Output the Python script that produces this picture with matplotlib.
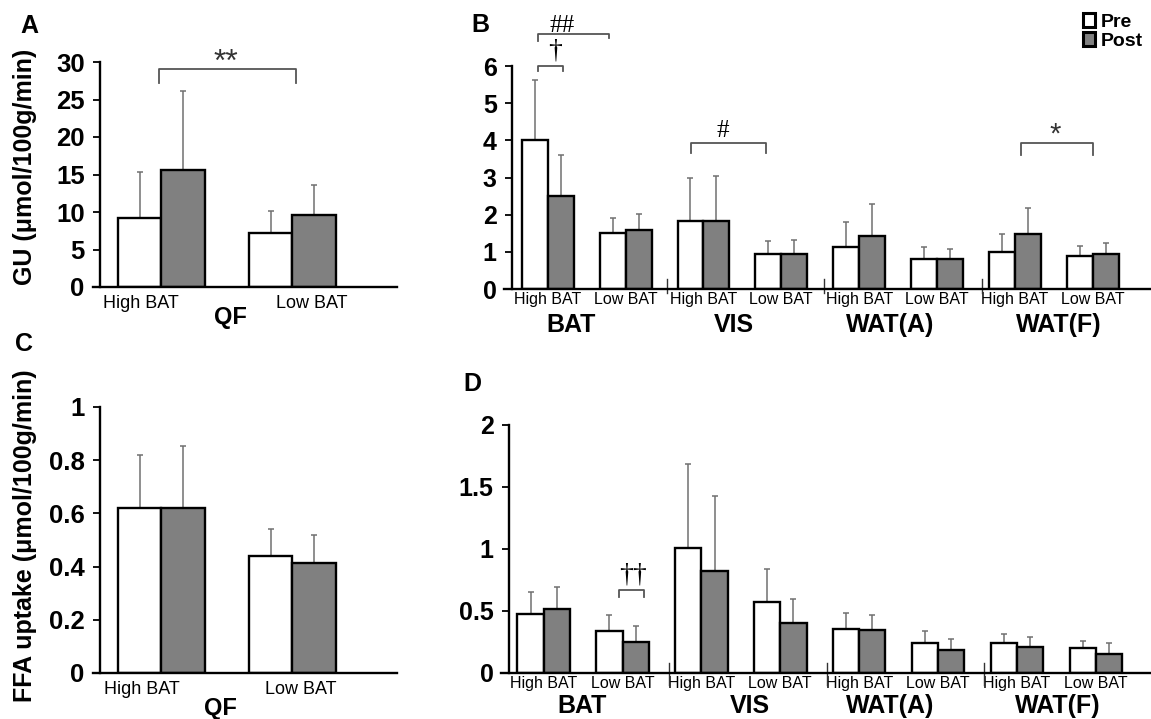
import matplotlib
matplotlib.use("Agg")
import matplotlib.pyplot as plt
import numpy as np
from matplotlib.patches import Patch
from matplotlib.transforms import blended_transform_factory

plt.rcParams["font.family"] = ["Liberation Sans", "DejaVu Sans"]

W, H = 1151, 719

# QF panels (A, C)
qf_labels = ["High BAT", "Low BAT"]
gu_qf_pre = [9.2, 7.2]
gu_qf_pre_sd = [6.1, 2.9]
gu_qf_post = [15.6, 9.6]
gu_qf_post_sd = [10.6, 4.0]
ffa_qf_pre = [0.62, 0.44]
ffa_qf_pre_sd = [0.20, 0.10]
ffa_qf_post = [0.62, 0.415]
ffa_qf_post_sd = [0.235, 0.105]

# tissue panels (B, D)
tissues = ["BAT", "VIS", "WAT(A)", "WAT(F)"]
tissue_labels = ["High BAT", "Low BAT"] * 4
gu_pre = [4.01, 1.50, 1.82, 0.93, 1.12, 0.82, 1.00, 0.90]
gu_pre_sd = [1.62, 0.40, 1.16, 0.37, 0.67, 0.30, 0.48, 0.27]
gu_post = [2.50, 1.60, 1.84, 0.95, 1.42, 0.80, 1.48, 0.95]
gu_post_sd = [1.10, 0.43, 1.19, 0.36, 0.86, 0.27, 0.69, 0.29]
ffa_pre = [0.476, 0.339, 1.005, 0.571, 0.353, 0.242, 0.238, 0.199]
ffa_pre_sd = [0.18, 0.127, 0.68, 0.27, 0.132, 0.098, 0.078, 0.057]
ffa_post = [0.514, 0.250, 0.826, 0.406, 0.345, 0.182, 0.207, 0.153]
ffa_post_sd = [0.18, 0.128, 0.60, 0.19, 0.126, 0.096, 0.087, 0.087]

GRAY = "#808080"
BW = 1 / 3


def px_axes(fig, left, top, right, bottom):
    return fig.add_axes([left / W, 1 - bottom / H, (right - left) / W, (bottom - top) / H])


def draw_bars(ax, pre, pre_sd, post, post_sd):
    x = np.arange(len(pre))
    n = len(pre)
    ax.bar(x - BW / 2, pre, BW, color="white", edgecolor="black", lw=1.7, zorder=3)
    ax.bar(x + BW / 2, post, BW, color=GRAY, edgecolor="black", lw=1.7, zorder=3)
    for xs, v, sd in [(x - BW / 2, pre, pre_sd), (x + BW / 2, post, post_sd)]:
        ax.errorbar(xs, v, yerr=[np.zeros(n), sd], fmt="none", ecolor="#707070",
                    elinewidth=1.1, capsize=2.5, capthick=1.1, zorder=2)


def style_axes(ax, ylim, yticks, ytick_size, line_ext):
    ax.set_ylim(*ylim)
    ax.set_yticks(yticks)
    ax.set_yticklabels([f"{v:g}" for v in yticks], fontweight="bold", fontsize=ytick_size)
    for s in ["top", "right", "bottom"]:
        ax.spines[s].set_visible(False)
    ax.spines["left"].set_linewidth(1.7)
    ax.tick_params(axis="y", direction="out", length=5, width=1.3, pad=6)
    ax.tick_params(axis="x", length=0)
    ax.axhline(0, xmin=-line_ext, xmax=1, color="black", lw=1.7, clip_on=False, zorder=4)
    ax.patch.set_alpha(0)


def bracket(ax, x0, x1, top, leg0, leg1):
    ax.plot([x0, x0, x1, x1], [leg0, top, top, leg1], color="#555555", lw=1.3,
            clip_on=False, zorder=5)


fig = plt.figure(figsize=(W / 100, H / 100), dpi=100)

# ---- A ----
axA = px_axes(fig, 100, 62, 397, 287)
draw_bars(axA, gu_qf_pre, gu_qf_pre_sd, gu_qf_post, gu_qf_post_sd)
axA.set_xlim(-0.47, 1.80)
style_axes(axA, (0, 30), [0, 5, 10, 15, 20, 25, 30], 18.5, 0.024)
axA.set_xticks([-0.16, 1.15])
axA.set_xticklabels(qf_labels, fontsize=13)
axA.tick_params(axis="x", pad=6)
axA.text(0.53, -0.135, "QF", transform=blended_transform_factory(axA.transData, axA.transAxes),
         ha="center", va="center", fontsize=17, fontweight="bold")
bracket(axA, -0.02, 1.03, 29.1, 27.2, 27.2)
axA.text(0.49, 29.9, "**", ha="center", va="center", fontsize=23, color="#333333")

# ---- C ----
axC = px_axes(fig, 100, 407, 397, 673)
draw_bars(axC, ffa_qf_pre, ffa_qf_pre_sd, ffa_qf_post, ffa_qf_post_sd)
axC.set_xlim(-0.47, 1.80)
style_axes(axC, (0, 1), [0, 0.2, 0.4, 0.6, 0.8, 1], 18.5, 0.024)
axC.set_xticks([-0.15, 1.065])
axC.set_xticklabels(qf_labels, fontsize=13)
axC.tick_params(axis="x", pad=6)
axC.text(0.45, -0.132, "QF", transform=blended_transform_factory(axC.transData, axC.transAxes),
         ha="center", va="center", fontsize=17, fontweight="bold")

# ---- B ----
axB = px_axes(fig, 512, 66, 1151, 289)
draw_bars(axB, gu_pre, gu_pre_sd, gu_post, gu_post_sd)
axB.set_xlim(-0.46, 7.75)
style_axes(axB, (0, 6), [0, 1, 2, 3, 4, 5, 6], 18, 0.0125)
axB.set_xticks(np.arange(len(tissue_labels)))
axB.set_xticklabels(tissue_labels, fontsize=11.5)
axB.tick_params(axis="x", pad=2.5)
trB = blended_transform_factory(axB.transData, axB.transAxes)
for xs in [1.53, 3.55, 5.58]:
    axB.plot([xs, xs], [-0.018, 0.045], transform=trB, color="#333333", lw=1, clip_on=False)
for xg, name in zip([0.3, 2.39, 4.4, 6.57], tissues):
    axB.text(xg, -0.16, name, transform=trB, ha="center", va="center",
             fontsize=18, fontweight="bold")
bracket(axB, -0.13, 0.78, 6.86, 6.67, 6.75)
axB.text(0.18, 7.08, "##", ha="center", va="center", fontsize=18, family="Liberation Serif")
bracket(axB, -0.13, 0.19, 6.0, 5.87, 5.87)
axB.text(0.09, 6.4, "\u2020", ha="center", va="center", fontsize=20, family="Liberation Serif")
bracket(axB, 1.84, 2.80, 3.93, 3.66, 3.66)
axB.text(2.25, 4.25, "#", ha="center", va="center", fontsize=18, family="Liberation Serif")
bracket(axB, 6.08, 7.01, 3.93, 3.6, 3.6)
axB.text(6.52, 4.15, "*", ha="center", va="center", fontsize=21, color="#333333")

handles = [Patch(facecolor="white", edgecolor="black", lw=2.2, label="Pre"),
           Patch(facecolor=GRAY, edgecolor="black", lw=2.2, label="Post")]
fig.legend(handles=handles, loc="upper left", bbox_to_anchor=(1083 / W, 1 - 13 / H),
           frameon=False, handlelength=0.6, handleheight=0.75, handletextpad=0.3,
           labelspacing=0.05, borderpad=0, borderaxespad=0,
           prop={"weight": "bold", "size": 14})

# ---- D ----
axD = px_axes(fig, 509, 425, 1151, 673)
draw_bars(axD, ffa_pre, ffa_pre_sd, ffa_post, ffa_post_sd)
axD.set_xlim(-0.44, 7.70)
style_axes(axD, (0, 2), [0, 0.5, 1, 1.5, 2], 18, 0.0125)
axD.set_xticks(np.arange(len(tissue_labels)))
axD.set_xticklabels(tissue_labels, fontsize=11.5)
axD.tick_params(axis="x", pad=2.5)
trD = blended_transform_factory(axD.transData, axD.transAxes)
for xs in [1.585, 3.59, 5.58]:
    axD.plot([xs, xs], [-0.048, 0.04], transform=trD, color="#333333", lw=1, clip_on=False)
for xg, name in zip([0.49, 2.62, 4.39, 6.52], tissues):
    axD.text(xg, -0.133, name, transform=trD, ha="center", va="center",
             fontsize=18, fontweight="bold")
bracket(axD, 0.95, 1.27, 0.669, 0.613, 0.613)
axD.text(1.13, 0.79, "\u2020\u2020", ha="center", va="center", fontsize=20,
         family="Liberation Serif")

# panel letters and y labels
for (px, py), letter in zip([(29, 26), (480, 25), (24, 344), (472, 384)], "ABCD"):
    fig.text(px / W, 1 - py / H, letter, ha="center", va="center", fontsize=18,
             fontweight="bold")
fig.text(25 / W, 1 - 167 / H, "GU (\u03bcmol/100g/min)", rotation=90, ha="center",
         va="center", fontsize=18, fontweight="bold")
fig.text(25 / W, 1 - 536 / H, "FFA uptake (\u03bcmol/100g/min)", rotation=90, ha="center",
         va="center", fontsize=18, fontweight="bold")

fig.savefig("out.png", dpi=100)
